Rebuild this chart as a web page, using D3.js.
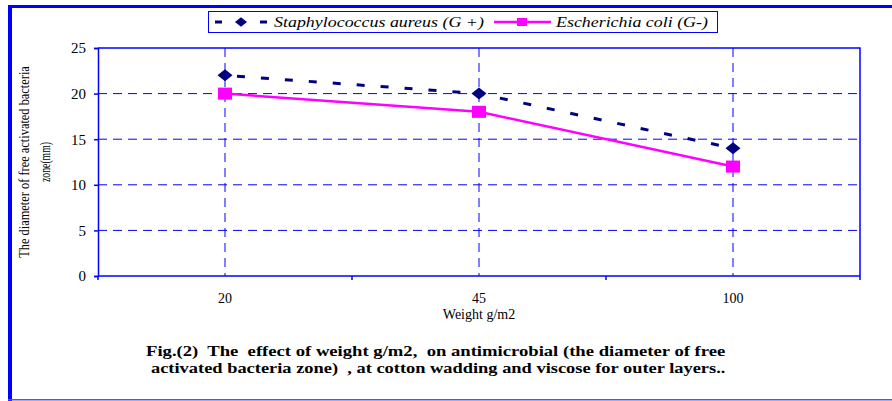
<!DOCTYPE html>
<html>
<head>
<meta charset="utf-8">
<script src="https://cdn.jsdelivr.net/npm/d3@7/dist/d3.min.js"></script>
<style>
  html, body { margin: 0; padding: 0; background: #fff; }
  svg { display: block; }
</style>
</head>
<body>
<svg id="chart" width="892" height="401"></svg>
<script>
// Weight categories (g/m2) and inhibition zone diameters (mm)
const categories = ["20", "45", "100"];
const staphValues = [22, 20, 14];
const ecoliValues = [20, 18, 12];
const yTicks = [0, 5, 10, 15, 20, 25];
const seriesNames = ["Staphylococcus aureus (G +)", "Escherichia coli (G-)"];

const svg = d3.select("#chart");
const serif = '"Liberation Serif", "Times New Roman", serif';
const blue = "#0000ff";

// place a text at (px,py) and stretch it horizontally to a given width
function fittedText(parent, px, py, str, width, opts = {}) {
  const holder = parent.append("g").attr("transform", `translate(${px},${py})`);
  const t = holder.append("text").attr("x", 0).attr("y", 0)
    .style("font-family", serif)
    .style("font-size", (opts.size || 14) + "px")
    .attr("text-anchor", opts.anchor || "start")
    .text(str);
  if (opts.weight) t.style("font-weight", opts.weight);
  if (opts.style) t.style("font-style", opts.style);
  const w = t.node().getComputedTextLength();
  if (w > 0) t.attr("transform", `scale(${width / w},1)`);
  return t;
}

// outer frame
svg.append("rect").attr("x", 8).attr("y", 5).attr("width", 884).attr("height", 3).attr("fill", blue);
svg.append("rect").attr("x", 8).attr("y", 5).attr("width", 4).attr("height", 396).attr("fill", blue);
svg.append("rect").attr("x", 8).attr("y", 399).attr("width", 884).attr("height", 1.5).attr("fill", "#5050ff");

const plot = { left: 98, right: 860, top: 48, bottom: 276 };

const x = d3.scaleBand().domain(categories).range([plot.left, plot.right]);
const y = d3.scaleLinear().domain([0, 25]).range([plot.bottom, plot.top]);
const cx = d => x(d) + x.bandwidth() / 2;

const g = svg.append("g");

// horizontal dashed gridlines
g.append("g").selectAll("line").data(yTicks.filter(t => t > 0 && t < 25)).join("line")
  .attr("x1", plot.left).attr("x2", plot.right)
  .attr("y1", d => y(d)).attr("y2", d => y(d))
  .attr("stroke", blue).attr("stroke-width", 1).attr("stroke-dasharray", "9,6");

// vertical dashed gridlines at category centres
g.append("g").selectAll("line").data(categories).join("line")
  .attr("x1", d => cx(d)).attr("x2", d => cx(d))
  .attr("y1", plot.top).attr("y2", plot.bottom)
  .attr("stroke", blue).attr("stroke-width", 1).attr("stroke-dasharray", "9,6");

// plot border top / right
g.append("path")
  .attr("d", `M${plot.left},${plot.top}H${plot.right}V${plot.bottom}`)
  .attr("fill", "none").attr("stroke", blue).attr("stroke-width", 1.5);

// y axis
const yAxis = g.append("g").attr("transform", `translate(${plot.left},0)`)
  .call(d3.axisLeft(y).tickValues(yTicks).tickSize(4).tickPadding(8));
yAxis.attr("font-family", null).attr("font-size", null);
yAxis.select(".domain").attr("stroke", blue).attr("stroke-width", 1.5);
yAxis.selectAll(".tick line").attr("stroke", blue).attr("stroke-width", 1.5);
yAxis.selectAll(".tick text").style("font-family", serif).style("font-size", "15px").attr("fill", "#000");

// x axis: ticks between categories, labels at centres
const xAxisG = g.append("g").attr("transform", `translate(0,${plot.bottom})`);
xAxisG.append("line").attr("x1", plot.left).attr("x2", plot.right)
  .attr("stroke", blue).attr("stroke-width", 1.5);
const boundaries = categories.map(d => x(d)).concat([plot.right]);
xAxisG.selectAll("line.tk").data(boundaries).join("line").attr("class", "tk")
  .attr("x1", d => d).attr("x2", d => d).attr("y1", 0).attr("y2", 4)
  .attr("stroke", blue).attr("stroke-width", 1.5);
xAxisG.selectAll("text").data(categories).join("text")
  .attr("x", d => cx(d)).attr("y", 27)
  .attr("text-anchor", "middle").style("font-family", serif).style("font-size", "14px")
  .text(d => d);

// axis titles
svg.append("text").attr("x", cx("45")).attr("y", 319)
  .attr("text-anchor", "middle").style("font-family", serif).style("font-size", "14px")
  .text("Weight g/m2");

const yTitle = svg.append("g").attr("transform", "translate(0,162) rotate(-90)");
fittedText(yTitle, 0, 29, "The diameter of free activated bacteria", 192, { size: 15, anchor: "middle" });
fittedText(yTitle, 0, 50, "zone(mm)", 40, { size: 15, anchor: "middle" });

// series lines
const line = d3.line().x((d, i) => cx(categories[i])).y(d => y(d));

g.append("path").datum(ecoliValues).attr("d", line)
  .attr("fill", "none").attr("stroke", "#ff00ff").attr("stroke-width", 2.5);
g.append("path").datum(staphValues).attr("d", line)
  .attr("fill", "none").attr("stroke", "#000080").attr("stroke-width", 3)
  .attr("stroke-dasharray", "8,16").attr("stroke-dashoffset", -12);

// markers
const diamond = (px, py, s = 1) =>
  `M${px},${py - 6 * s}L${px + 7.5 * s},${py}L${px},${py + 6 * s}L${px - 7.5 * s},${py}Z`;
g.append("g").selectAll("path").data(staphValues).join("path")
  .attr("d", (d, i) => diamond(cx(categories[i]), y(d))).attr("fill", "#000080");
g.append("g").selectAll("rect").data(ecoliValues).join("rect")
  .attr("x", (d, i) => cx(categories[i]) - 7).attr("y", d => y(d) - 6)
  .attr("width", 14).attr("height", 12).attr("fill", "#ff00ff");

// legend
const lg = svg.append("g");
lg.append("rect").attr("x", 208.5).attr("y", 11.5).attr("width", 509).attr("height", 21)
  .attr("fill", "#fff").attr("stroke", blue).attr("stroke-width", 1);
lg.append("rect").attr("x", 215).attr("y", 20.5).attr("width", 7).attr("height", 3).attr("fill", "#000080");
lg.append("path").attr("d", diamond(241, 22, 0.8)).attr("fill", "#000080");
lg.append("rect").attr("x", 260).attr("y", 20.5).attr("width", 7).attr("height", 3).attr("fill", "#000080");
fittedText(lg, 274, 27, seriesNames[0], 210, { size: 15, style: "italic" });
lg.append("line").attr("x1", 494).attr("x2", 551).attr("y1", 22).attr("y2", 22)
  .attr("stroke", "#ff00ff").attr("stroke-width", 2.5);
lg.append("rect").attr("x", 517).attr("y", 18).attr("width", 10).attr("height", 8).attr("fill", "#ff00ff");
fittedText(lg, 556, 27, seriesNames[1], 152, { size: 15, style: "italic" });

// caption
fittedText(svg, 146, 356,
  "Fig.(2)\u00a0 The\u00a0 effect of weight g/m2,\u00a0 on antimicrobial (the diameter of free",
  580, { size: 15, weight: "bold" });
fittedText(svg, 151, 373,
  "activated bacteria zone)\u00a0 , at cotton wadding and viscose for outer layers..",
  575, { size: 15, weight: "bold" });
</script>
</body>
</html>
